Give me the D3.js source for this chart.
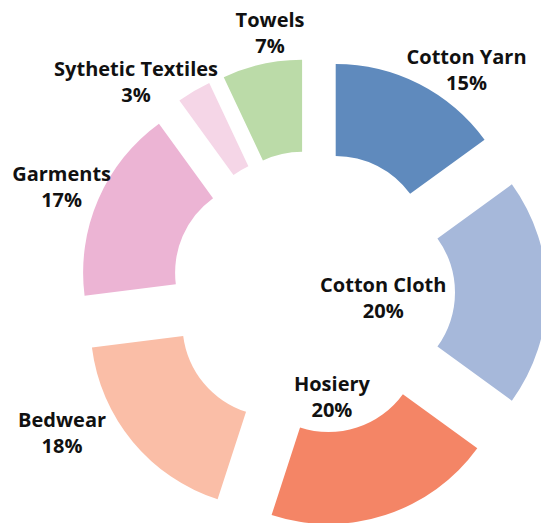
<!DOCTYPE html>
<html>
<head>
<meta charset="utf-8">
<script src="https://cdn.jsdelivr.net/npm/d3@7"></script>
<style>
  html, body { margin: 0; padding: 0; background: #fff; overflow: hidden; }
  svg { display: block; }
  text { font-family: "Open Sans", "Noto Sans", sans-serif; font-weight: 700; font-size: 20px; fill: #111; }
</style>
</head>
<body>
<div id="chart"></div>
<script>
// ---- data ----
const categories = ["Cotton Yarn", "Cotton Cloth", "Hosiery", "Bedwear", "Garments", "Sythetic Textiles", "Towels"];
const shares = [15, 20, 20, 18, 17, 3, 7];           // percent
const colors = ["#5f8abd", "#a6b8da", "#f48566", "#fabea7", "#ecb4d4", "#f5d6e7", "#bbdba8"];

// ---- layout (not data) ----
const W = 541, H = 523;
const cx = 313, cy = 292.5;
const innerR = 92, outerR = 184, explode = 50;
// label block centres in polar form around the chart centre: [angle in degrees, radius]
const labelPolar = [[34.6, 270.4], [94.7, 70.5], [169.7, 105.9], [240.8, 287.5], [292.8, 272.7], [320.0, 275.3], [350.6, 263.0]];
const lineGap = 26;

const svg = d3.select("#chart").append("svg")
  .attr("width", W).attr("height", H)
  .attr("viewBox", `0 0 ${W} ${H}`);

svg.append("rect").attr("width", W).attr("height", H).attr("fill", "#fff");

const pie = d3.pie().sort(null).value(d => d.value);
const arcs = pie(categories.map((c, i) => ({ name: c, value: shares[i], color: colors[i] })));
const arc = d3.arc().innerRadius(innerR).outerRadius(outerR);

const g = svg.append("g").attr("transform", `translate(${cx},${cy})`);

g.selectAll("path.slice")
  .data(arcs)
  .join("path")
  .attr("class", "slice")
  .attr("d", arc)
  .attr("fill", d => d.data.color)
  .attr("transform", d => {
    const mid = (d.startAngle + d.endAngle) / 2;
    return `translate(${explode * Math.sin(mid)},${-explode * Math.cos(mid)})`;
  });

const labels = g.selectAll("g.label")
  .data(arcs)
  .join("g")
  .attr("class", "label")
  .attr("transform", (d, i) => {
    const a = labelPolar[i][0] * Math.PI / 180, r = labelPolar[i][1];
    return `translate(${r * Math.sin(a)},${-r * Math.cos(a)})`;
  });

labels.append("text")
  .attr("text-anchor", "middle")
  .attr("y", -5.85)
  .text(d => d.data.name);

labels.append("text")
  .attr("text-anchor", "middle")
  .attr("y", -5.85 + lineGap)
  .text(d => d3.format(".0f")(d.data.value) + "%");
</script>
</body>
</html>
